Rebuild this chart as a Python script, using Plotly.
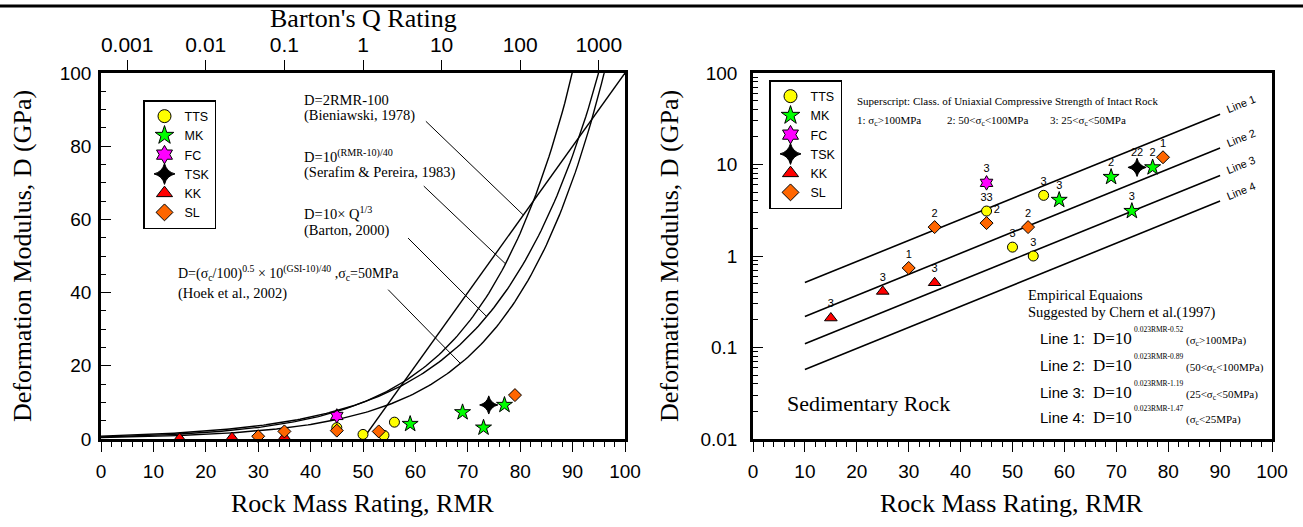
import plotly.graph_objects as go

W, H = 1303, 527

# ---------------- data ----------------
series_names = ["TTS", "MK", "FC", "TSK", "KK", "SL"]
tts_rmr = [45, 50, 54, 56]
tts_d = [3.1, 1.25, 1.0, 4.6]
tts_cls = ["33", "3", "3", "3"]
mk_rmr = [59, 69, 73, 77]
mk_d = [4.1, 7.3, 3.1, 9.3]
mk_cls = ["3", "2", "3", "2"]
fc_rmr = [45]
fc_d = [6.3]
fc_cls = ["3"]
tsk_rmr = [74]
tsk_d = [9.3]
tsk_cls = ["22"]
kk_rmr = [15, 25, 35]
kk_d = [0.21, 0.41, 0.51]
kk_cls = ["3", "3", "3"]
sl_rmr = [30, 35, 45, 53, 79]
sl_d = [0.74, 2.07, 2.29, 2.07, 12.0]
sl_cls = ["1", "2", "2", "2", "1"]

rmr_ticks = list(range(0, 101, 10))
lin_d_ticks = [0, 20, 40, 60, 80, 100]
q_tick_vals = [0.001, 0.01, 0.1, 1, 10, 100, 1000]
q_tick_text = ["0.001", "0.01", "0.1", "1", "10", "100", "1000"]
log_d_ticks = [0.01, 0.1, 1, 10, 100]
log_d_text = ["0.01", "0.1", "1", "10", "100"]

# empirical relations shown in the chart
bien_rmr = [50, 100]                      # D = 2RMR - 100
rmr_grid = [i * 0.5 for i in range(201)]  # RMR sample points
hoek_sigma_c = 50
chern_slope = 0.023
chern_offsets = [0.52, 0.89, 1.19, 1.47]
chern_rmr = [10, 90]
chern_ranges = ["(σ<sub>c</sub>&gt;100MPa)", "(50&lt;σ<sub>c</sub>&lt;100MPa)",
                "(25&lt;σ<sub>c</sub>&lt;50MPa)", "(σ<sub>c</sub>&lt;25MPa)"]

SANS = "Liberation Sans, Arial, sans-serif"
SERIF = "Liberation Serif, Times New Roman, serif"

data = {
    "TTS": (tts_rmr, tts_d, tts_cls),
    "MK": (mk_rmr, mk_d, mk_cls),
    "FC": (fc_rmr, fc_d, fc_cls),
    "TSK": (tsk_rmr, tsk_d, tsk_cls),
    "KK": (kk_rmr, kk_d, kk_cls),
    "SL": (sl_rmr, sl_d, sl_cls),
}
style = {
    "TTS": dict(symbol="circle", color="#FFFF00", size=10, lsize=13),
    "MK": dict(symbol="star", color="#00FF00", size=12, lsize=14),
    "FC": dict(symbol="hexagram", color="#FF00FF", size=11, lsize=14),
    "TSK": dict(symbol="star-diamond", color="#000000", size=13, lsize=15),
    "KK": dict(symbol="triangle-up", color="#FF0000", size=11, lsize=14),
    "SL": dict(symbol="diamond", color="#FF6600", size=10, lsize=13),
}

fig = go.Figure()

# ---------------- left panel curves ----------------
line_style = dict(color="black", width=1.4)
fig.add_trace(go.Scatter(x=bien_rmr, y=[2 * r - 100 for r in bien_rmr], mode="lines",
                         line=line_style, showlegend=False, hoverinfo="skip", xaxis="x", yaxis="y"))
fig.add_trace(go.Scatter(x=rmr_grid, y=[10 ** ((r - 10) / 40) for r in rmr_grid], mode="lines",
                         line=line_style, showlegend=False, hoverinfo="skip", xaxis="x", yaxis="y"))
barton_q = [10 ** ((r - 50) / 15) for r in rmr_grid]
fig.add_trace(go.Scatter(x=barton_q, y=[10 * q ** (1 / 3) for q in barton_q], mode="lines",
                         line=line_style, showlegend=False, hoverinfo="skip", xaxis="x2", yaxis="y"))
fig.add_trace(go.Scatter(x=rmr_grid,
                         y=[(hoek_sigma_c / 100) ** 0.5 * 10 ** ((r - 10) / 40) for r in rmr_grid],
                         mode="lines", line=line_style, showlegend=False, hoverinfo="skip",
                         xaxis="x", yaxis="y"))

# ---------------- right panel lines ----------------
for c in chern_offsets:
    fig.add_trace(go.Scatter(x=chern_rmr, y=[10 ** (chern_slope * r - c) for r in chern_rmr],
                             mode="lines", line=dict(color="black", width=1.6),
                             showlegend=False, hoverinfo="skip", xaxis="x3", yaxis="y3"))

# ---------------- points ----------------
for name in series_names:
    xs, ys, cls = data[name]
    st = style[name]
    mk = dict(symbol=st["symbol"], color=st["color"], size=st["size"],
              line=dict(color="black", width=1))
    fig.add_trace(go.Scatter(x=xs, y=ys, mode="markers", marker=mk, name=name,
                             showlegend=False, cliponaxis=False, xaxis="x", yaxis="y"))
    tpos = ["top center"] * len(xs)
    if name == "SL":
        tpos[2] = "top right"
    fig.add_trace(go.Scatter(x=xs, y=ys, mode="markers+text", marker=mk, name=name,
                             text=cls, textposition=tpos,
                             textfont=dict(family=SANS, size=11, color="#000000"),
                             showlegend=False, cliponaxis=False, xaxis="x3", yaxis="y3"))
    lmk = dict(mk, size=st["lsize"])
    fig.add_trace(go.Scatter(x=[None], y=[None], mode="markers", marker=lmk, name=name,
                             showlegend=True, legend="legend", xaxis="x", yaxis="y"))
    fig.add_trace(go.Scatter(x=[None], y=[None], mode="markers", marker=lmk, name=name,
                             showlegend=True, legend="legend2", xaxis="x3", yaxis="y3"))

# ---------------- leader lines (left panel) ----------------
leaders = [
    (62.0, 86.8, 80.6, lambda r: 2 * r - 100),
    (61.6, 69.1, 77.2, lambda r: 10 ** ((r - 10) / 40)),
    (58.6, 54.9, 73.6, lambda r: 10 * 10 ** ((r - 50) / 45)),
    (54.8, 40.8, 68.6, lambda r: (hoek_sigma_c / 100) ** 0.5 * 10 ** ((r - 10) / 40)),
]
shapes = []
for x0, y0, x1, f in leaders:
    shapes.append(dict(type="line", xref="x", yref="y", x0=x0, y0=y0, x1=x1, y1=f(x1),
                       line=dict(color="black", width=1)))
# top rule of the page
shapes.append(dict(type="line", xref="paper", yref="paper", x0=0, x1=1,
                   y0=1 - 6 / H, y1=1 - 6 / H, line=dict(color="black", width=3)))


def ann(xp, yp, text, size, family=SERIF, xanchor="left", yanchor="middle", angle=0):
    return dict(x=xp / W, y=1 - yp / H, xref="paper", yref="paper", text=text,
                showarrow=False, xanchor=xanchor, yanchor=yanchor, textangle=angle,
                font=dict(family=family, size=size, color="black"))


annotations = [
    ann(302, 100, "D=2RMR-100", 14.5),
    ann(302, 116, "(Bieniawski, 1978)", 14.5),
    ann(302, 156, "D=10<sup>(RMR-10)/40</sup>", 14.5),
    ann(302, 172, "(Serafim &amp; Pereira, 1983)", 14.5),
    ann(302, 213, "D=10× Q<sup>1/3</sup>", 14.5),
    ann(302, 230, "(Barton, 2000)", 14.5),
    ann(176, 273, "D=(σ<sub>c</sub>/100)<sup>0.5</sup> × 10<sup>(GSI-10)/40</sup> ,σ<sub>c</sub>=50MPa", 14),
    ann(176, 293, "(Hoek et al., 2002)", 14.5),
    # right panel notes
    ann(855, 101, "Superscript: Class. of Uniaxial Compressive Strength of Intact Rock", 11),
    ann(855, 121, "1: σ<sub>c</sub>&gt;100MPa", 11),
    ann(945, 121, "2: 50&lt;σ<sub>c</sub>&lt;100MPa", 11),
    ann(1048, 121, "3: 25&lt;σ<sub>c</sub>&lt;50MPa", 11),
    ann(1026, 295, "Empirical Equaions", 14.5),
    ann(1026, 312, "Suggested by Chern et al.(1997)", 14.5),
    ann(785, 403, "Sedimentary Rock", 22),
    # axis titles
    ann(363, 18, "Barton's Q Rating", 26, xanchor="center"),
    ann(363, 503, "Rock Mass Rating, RMR", 26, xanchor="center"),
    ann(1012, 503, "Rock Mass Rating, RMR", 26, xanchor="center"),
    ann(22, 256, "Deformation Modulus, D (GPa)", 26, xanchor="center", angle=-90),
    ann(669, 256, "Deformation Modulus, D (GPa)", 26, xanchor="center", angle=-90),
]
row_y = [338, 365, 392, 417]
for i, c in enumerate(chern_offsets):
    y = row_y[i]
    annotations.append(ann(1038, y, f"Line {i + 1}:", 15, family=SANS))
    annotations.append(ann(1091, y, "D=10", 17))
    annotations.append(ann(1132, y - 9, f"{chern_slope}RMR-{c}", 7.5))
    annotations.append(ann(1184, y + 3, chern_ranges[i], 11))
    # rotated line labels beyond line ends
    annotations.append(dict(x=94, y=chern_slope * 94 - c + 0.02, xref="x3", yref="y3",
                            text=f"Line {i + 1}", showarrow=False, textangle=-22,
                            xanchor="center", yanchor="middle",
                            font=dict(family=SANS, size=11, color="black")))

axis_common = dict(showline=True, linecolor="black", linewidth=2.5, showgrid=False,
                   zeroline=False, tickcolor="black", tickwidth=1, automargin=False,
                   tickfont=dict(family=SANS, size=19, color="black"))

left_dom = [101 / W, 625 / W]
right_dom = [753 / W, 1272 / W]
y_dom = [1 - 439 / H, 1 - 73 / H]

fig.update_layout(
    template="none",
    width=W, height=H, margin=dict(l=0, r=0, t=0, b=0, autoexpand=False),
    paper_bgcolor="white", plot_bgcolor="white",
    xaxis=dict(axis_common, domain=left_dom, range=[0, 100], anchor="y", mirror=True,
               tickvals=rmr_ticks, ticks="outside", ticklen=10, ticklabelstandoff=3,
               minor=dict(ticks="outside", ticklen=5, dtick=2, tick0=0, tickcolor="black")),
    yaxis=dict(axis_common, domain=y_dom, range=[0, 100], anchor="x", mirror=True,
               tickvals=lin_d_ticks, ticks="inside", ticklen=10, ticklabelstandoff=3,
               minor=dict(ticks="inside", ticklen=5, dtick=5, tick0=0, tickcolor="black")),
    xaxis2=dict(axis_common, type="log", range=[-10 / 3, 10 / 3], overlaying="x", anchor="y",
                side="top", tickvals=q_tick_vals, ticktext=q_tick_text, ticks="outside",
                ticklen=10, ticklabelstandoff=0,
                tickfont=dict(family=SANS, size=21, color="black")),
    xaxis3=dict(axis_common, domain=right_dom, range=[0, 100], anchor="y3", mirror=True,
                tickvals=rmr_ticks, ticks="outside", ticklen=10, ticklabelstandoff=3,
                minor=dict(ticks="outside", ticklen=5, dtick=2, tick0=0, tickcolor="black")),
    yaxis3=dict(axis_common, domain=y_dom, type="log", range=[-2, 2], anchor="x3", mirror=True,
                tickvals=log_d_ticks, ticktext=log_d_text, ticks="inside", ticklen=10,
                ticklabelstandoff=9,
                minor=dict(ticks="inside", ticklen=5, tickcolor="black",
                           tickvals=[k * 10 ** e for e in range(-2, 2) for k in range(2, 10)])),
    legend=dict(x=143 / W, y=1 - 100 / H, xanchor="left", yanchor="top",
                bgcolor="white", bordercolor="black", borderwidth=1.5,
                font=dict(family=SANS, size=12.5, color="black"), itemclick=False),
    legend2=dict(x=769 / W, y=1 - 80 / H, xanchor="left", yanchor="top",
                 bgcolor="white", bordercolor="black", borderwidth=1.5,
                 font=dict(family=SANS, size=12.5, color="black"), itemclick=False),
    shapes=shapes,
    annotations=annotations,
)

fig.write_html("out.html")
